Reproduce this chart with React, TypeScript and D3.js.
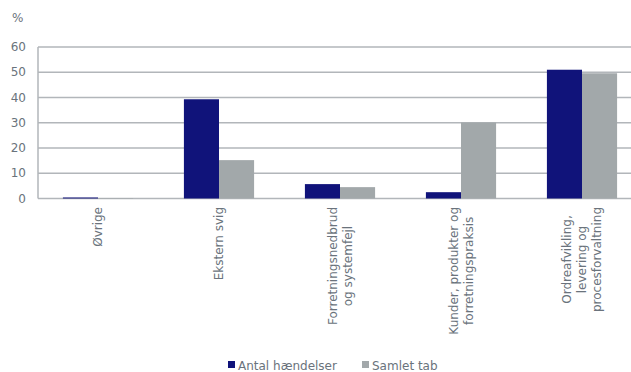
import React from "react";
import * as d3 from "d3";

const categories: string[][] = [
  ["Øvrige"],
  ["Ekstern svig"],
  ["Forretningsnedbrud", "og systemfejl"],
  ["Kunder, produkter og", "forretningspraksis"],
  ["Ordreafvikling,", "levering og", "procesforvaltning"],
];
const seriesNames = ["Antal hændelser", "Samlet tab"];
const antal = [0.4, 39.3, 5.7, 2.5, 51.0];
const samlet = [0.2, 15.2, 4.5, 30.1, 49.6];
const yTicks = [0, 10, 20, 30, 40, 50, 60];
const colors = ["#10137a", "#a2a8aa"];

const W = 631;
const H = 372;
const fontName = "'DejaVu Sans', Verdana, sans-serif";
const textColor = "#6a737c";

let ctx: CanvasRenderingContext2D | null = null;
function measure(s: string, size: number): number {
  if (!ctx) {
    const c = document.createElement("canvas");
    ctx = c.getContext("2d");
  }
  if (!ctx) return s.length * size * 0.6;
  ctx.font = `${size}px 'DejaVu Sans'`;
  return ctx.measureText(s).width;
}

export default function App() {
  const keys = categories.map((_, i) => String(i));
  const x0 = d3.scaleBand<string>().domain(keys).range([37.5, 642.5]).paddingInner(0.42).paddingOuter(0.21);
  const x1 = d3.scaleBand<string>().domain(["0", "1"]).range([0, x0.bandwidth()]);
  const y = d3.scaleLinear().domain([0, 60]).range([198.5, 47]);
  const data = [antal, samlet];
  const fs = 12;

  return (
    <svg width={W} height={H} style={{ position: "absolute", left: 0, top: 0 }}>
      <rect width={W} height={H} fill="#fff" />
      <text x={12} y={22} fontFamily={fontName} fontSize={fs} fill={textColor}>%</text>
      {yTicks.map((t) => (
        <g key={t}>
          <line x1={38} x2={631} y1={y(t)} y2={y(t)} stroke="#b2b6ba" strokeWidth={1.5} />
          <text x={26} y={y(t)} dy="0.35em" textAnchor="end" fontFamily={fontName} fontSize={fs} fill={textColor}>{t}</text>
        </g>
      ))}
      <line x1={38} x2={38} y1={y(60)} y2={y(0)} stroke="#b2b6ba" strokeWidth={1.5} />
      {keys.map((k, i) => (
        <g key={k} transform={`translate(${x0(k)},0)`}>
          {data.map((s, j) => (
            <rect
              key={j}
              x={x1(String(j))}
              y={y(s[i])}
              width={x1.bandwidth()}
              height={y(0) - y(s[i])}
              fill={colors[j]}
            />
          ))}
        </g>
      ))}
      {categories.map((lines, i) => {
        const cx = (x0(String(i)) as number) + x0.bandwidth() / 2;
        const n = lines.length;
        const maxW = Math.max(...lines.map((l) => measure(l, fs)));
        return (
          <g key={i} transform={`translate(${cx},207) rotate(-90)`}>
            {lines.map((l, j) => (
              <text
                key={j}
                x={-maxW / 2}
                y={(j - (n - 1) / 2) * 15}
                dy="0.35em"
                textAnchor="middle"
                fontFamily={fontName}
                fontSize={fs}
                fill={textColor}
              >
                {l}
              </text>
            ))}
          </g>
        );
      })}
      {seriesNames.map((s, j) => {
        const lx = j === 0 ? 228 : 362;
        return (
          <g key={s}>
            <rect x={lx} y={361} width={7} height={7} fill={colors[j]} />
            <text x={lx + 10} y={366} dy="0.35em" fontFamily={fontName} fontSize={fs} fill={textColor}>{s}</text>
          </g>
        );
      })}
    </svg>
  );
}
